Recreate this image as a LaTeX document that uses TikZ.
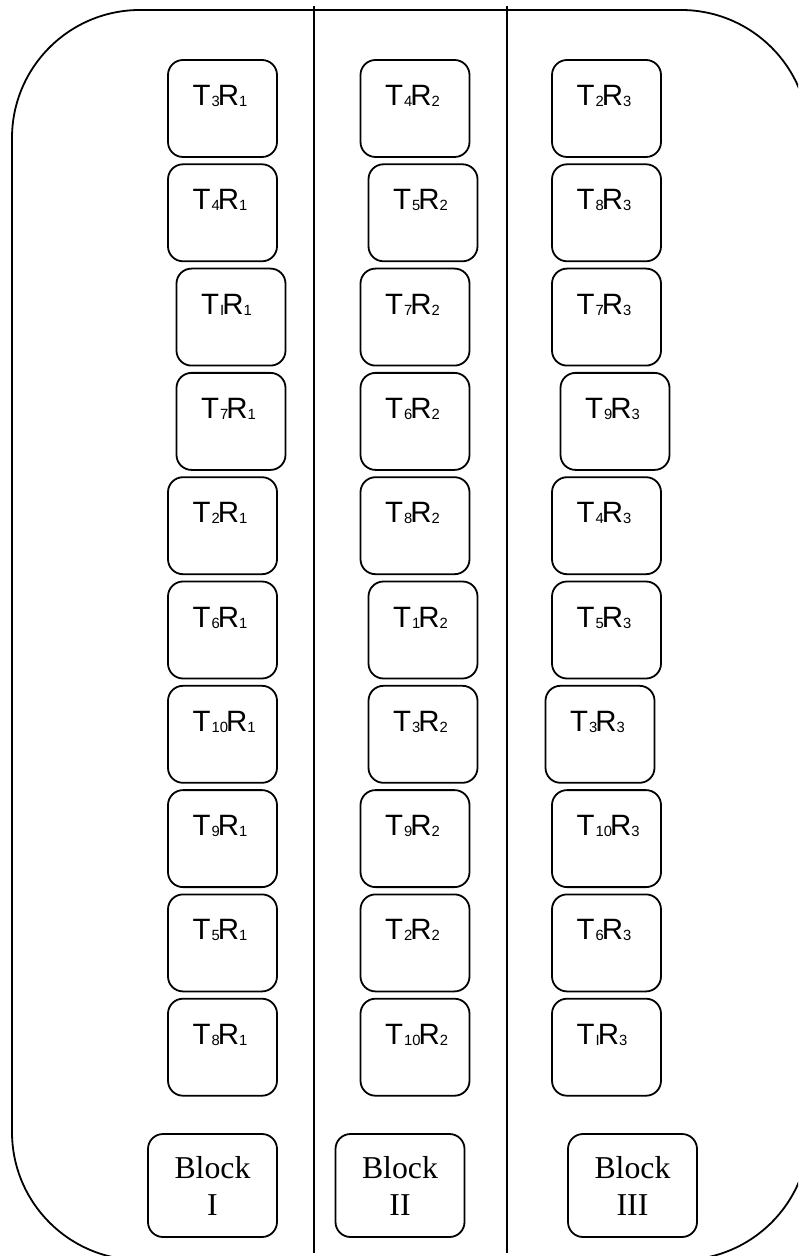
\documentclass[tikz,border=0pt]{standalone}
\usepackage{fontspec}
\setmainfont{Liberation Serif}
\newfontfamily\plotfont{Liberation Sans}
\usetikzlibrary{positioning}
\newcommand\subnum[1]{\raisebox{-0.5pt}{\fontsize{7.4pt}{8pt}\selectfont #1}}
\newcommand\plotlbl[2]{\makebox[30pt][l]{T\kern0.6pt\subnum{#1}\kern-1pt R\subnum{#2}}}

\begin{document}
\begin{tikzpicture}[
  x=0.5pt,y=-0.5pt,
  line width=0.9pt,
  plotbox/.style={draw,rounded corners=7.5pt,minimum width=54.5pt,minimum height=48.5pt,
                  inner sep=0pt,font=\plotfont\fontsize{14.7pt}{17pt}\selectfont,
                  text height=10.5pt,text depth=13.5pt},
  blockbox/.style={draw,rounded corners=7.5pt,minimum width=64.5pt,minimum height=51.5pt,
                   inner sep=0pt,align=center,font=\fontsize{15.9pt}{18.5pt}\selectfont},
  divider/.style={line width=0.9pt}
]
  \useasboundingbox (0,0) rectangle (798,1256);
  \clip (0,0) rectangle (798,1256);

  % field outline
  \draw[rounded corners=64pt] (12,10) rectangle (809,1260);

  % block dividers
  \coordinate (div1top) at (314,6);
  \coordinate (div1bot) at (314,1253);
  \coordinate (div2top) at (507,6);
  \coordinate (div2bot) at (507,1253);
  \draw[divider] (div1top) -- (div1bot);
  \draw[divider] (div2top) -- (div2bot);

  % block I
  \foreach \t/\dx [count=\i] in {3/0,4/0,I/8.5,7/8.5,2/0,6/0,10/0,9/0,5/0,8/0}
    \node[plotbox] (b1p\i) at ({222.5+\dx},{108.5+104.3*(\i-1)}) {\plotlbl{\t}{1}};
  % block II
  \foreach \t/\dx [count=\i] in {4/0,5/8,7/0,6/0,8/0,1/8,3/8,9/0,2/0,10/0}
    \node[plotbox] (b2p\i) at ({415+\dx},{108.5+104.3*(\i-1)}) {\plotlbl{\t}{2}};
  % block III
  \foreach \t/\dx [count=\i] in {2/0,8/0,7/0,9/8.5,4/0,5/0,3/-6.5,10/0,6/0,I/0}
    \node[plotbox] (b3p\i) at ({606.5+\dx},{108.5+104.3*(\i-1)}) {\plotlbl{\t}{3}};

  % block labels
  \node[blockbox] (blk1) at (212.5,1185.5) {Block\\I};
  \node[blockbox] (blk2) at (400,1185.5) {Block\\II};
  \node[blockbox] (blk3) at (632.5,1185.5) {Block\\III};
\end{tikzpicture}
\end{document}
